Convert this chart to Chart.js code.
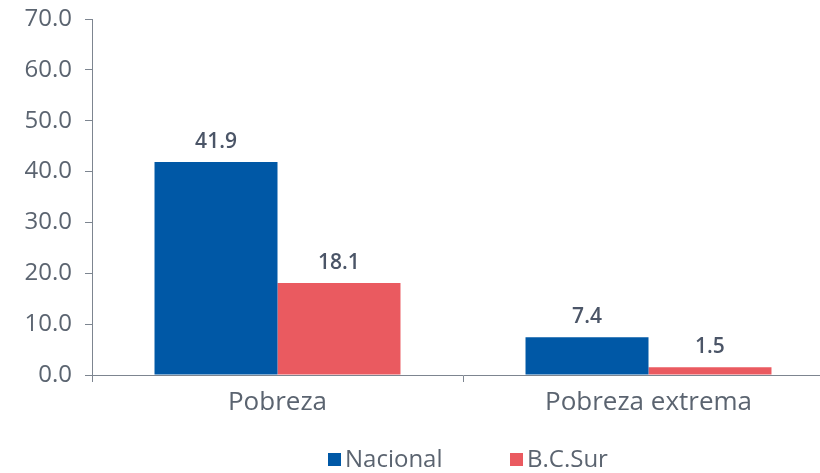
<!DOCTYPE html>
<html>
<head>
<meta charset="utf-8">
<script src="https://cdn.jsdelivr.net/npm/chart.js@4/dist/chart.umd.min.js"></script>
<style>
  html, body { margin:0; padding:0; background:#fff; overflow:hidden; width:820px; height:473px; }
  #wrap { position:absolute; left:0; top:0; width:836px; height:473px; }
  #legend { position:absolute; top:442px; left:0; width:820px; height:31px; font-family:"Open Sans", sans-serif; font-size:24px; line-height:31px; color:#5b6470; }
  .item { position:absolute; top:0; white-space:nowrap; }
  .box { display:inline-block; width:13px; height:13px; margin-right:4px; vertical-align:1px; }
</style>
</head>
<body>
<div id="wrap"><canvas id="c"></canvas></div>
<div id="legend"></div>
<script>
const categories = ["Pobreza", "Pobreza extrema"];
const seriesNames = ["Nacional", "B.C.Sur"];
const nacional = [41.9, 7.4];
const bcsur = [18.1, 1.5];
const yTicks = [0, 10, 20, 30, 40, 50, 60, 70];

const colors = ["#0058a6", "#ea5a60"];
const textColor = "#5b6470";
const axisColor = "#7d8590";
const fontFamily = "'Open Sans', sans-serif";

const valueLabels = {
  id: 'valueLabels',
  afterDatasetsDraw(chart) {
    const ctx = chart.ctx;
    ctx.save();
    ctx.font = "600 21px " + fontFamily;
    ctx.fillStyle = "#4b5567";
    ctx.textAlign = "center";
    ctx.textBaseline = "alphabetic";
    chart.data.datasets.forEach((ds, i) => {
      const meta = chart.getDatasetMeta(i);
      meta.data.forEach((bar, j) => {
        ctx.fillText(ds.data[j].toFixed(1), bar.x, bar.y - 14);
      });
    });
    ctx.restore();
  }
};

const chart = new Chart(document.getElementById('c'), {
  type: 'bar',
  data: {
    labels: categories,
    datasets: [
      { label: seriesNames[0], data: nacional, backgroundColor: colors[0], categoryPercentage: 0.663, barPercentage: 1.0 },
      { label: seriesNames[1], data: bcsur, backgroundColor: colors[1], categoryPercentage: 0.663, barPercentage: 1.0 }
    ]
  },
  options: {
    responsive: true,
    maintainAspectRatio: false,
    animation: false,
    layout: { padding: { top: 19, right: 2, left: 0, bottom: 0 } },
    plugins: { legend: { display: false }, tooltip: { enabled: false } },
    scales: {
      x: {
        grid: { display: true, drawOnChartArea: false, drawTicks: true, tickLength: 7, offset: true, color: axisColor, lineWidth: 1 },
        border: { display: true, color: axisColor, width: 1 },
        ticks: { color: textColor, font: { family: fontFamily, size: 26, weight: 500 }, padding: 5 },
        afterFit(scale) { scale.height = 98; scale.paddingLeft = 0; scale.paddingRight = 0; }
      },
      y: {
        min: 0, max: 70,
        afterBuildTicks(scale) { scale.ticks = yTicks.map(v => ({ value: v })); },
        grid: { display: true, drawOnChartArea: false, drawTicks: true, tickLength: 7, color: axisColor, lineWidth: 1 },
        border: { display: true, color: axisColor, width: 1 },
        ticks: { color: textColor, font: { family: fontFamily, size: 24, weight: 400 }, padding: 13, callback: v => Number(v).toFixed(1) },
        afterFit(scale) { scale.width = 92; scale.paddingTop = 0; scale.paddingBottom = 0; }
      }
    }
  },
  plugins: [valueLabels]
});

const legendPos = [328, 510];
const legend = document.getElementById('legend');
seriesNames.forEach((name, i) => {
  const d = document.createElement('div');
  d.className = 'item';
  d.style.left = legendPos[i] + 'px';
  const b = document.createElement('span');
  b.className = 'box';
  b.style.background = colors[i];
  d.appendChild(b);
  d.appendChild(document.createTextNode(name));
  legend.appendChild(d);
});
</script>
</body>
</html>
